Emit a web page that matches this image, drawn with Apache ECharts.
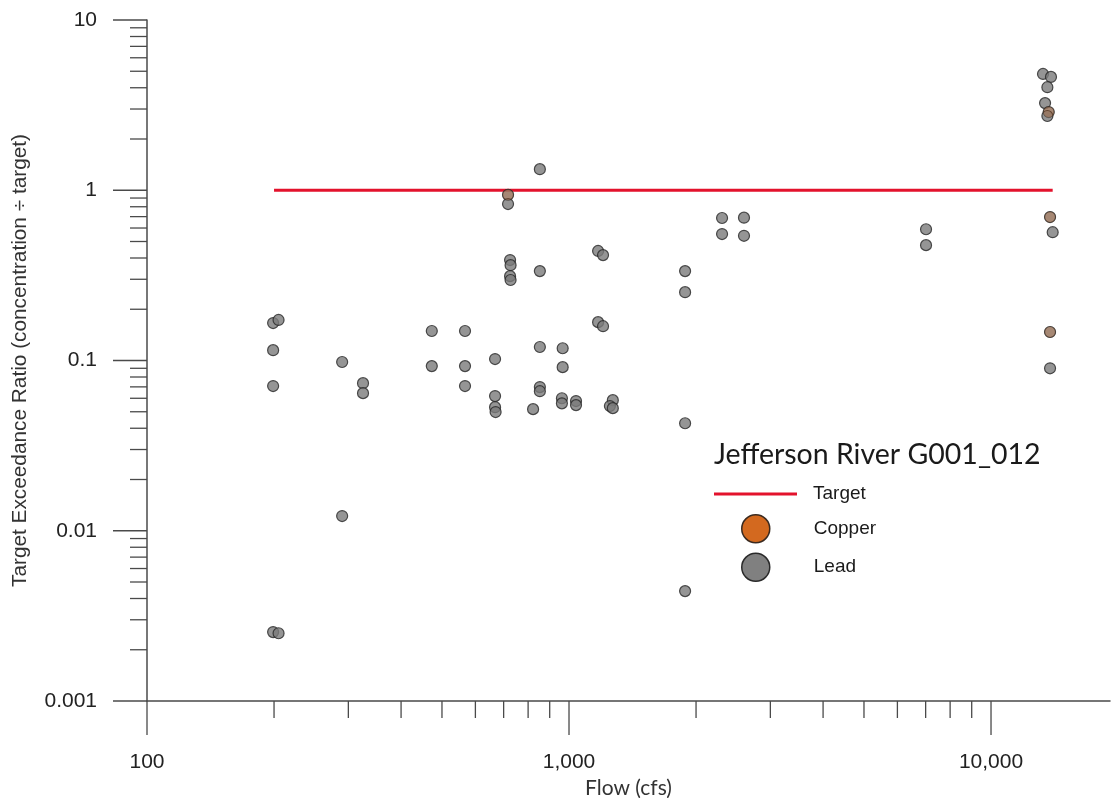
<!DOCTYPE html>
<html>
<head>
<meta charset="utf-8">
<script src="https://cdn.jsdelivr.net/npm/echarts@6/dist/echarts.min.js"></script>
<style>
html,body{margin:0;padding:0;background:#fff;}
#chart{width:1112px;height:798px;}
</style>
</head>
<body>
<div id="chart"></div>
<script>
// ---- data (flow cfs, target exceedance ratio) ----
const leadPoints = [
  [199,0.166],[205,0.173],[199,0.115],[199,0.0708],[199,0.00254],[205,0.00250],
  [290,0.098],[290,0.0122],[325,0.0736],[325,0.0643],
  [473,0.149],[473,0.0927],
  [567,0.149],[567,0.0927],[567,0.0708],
  [668,0.102],[668,0.0618],[668,0.0532],[670,0.0498],
  [717,0.94],[717,0.83],[725,0.389],[727,0.363],[725,0.313],[727,0.297],
  [822,0.0518],
  [853,1.33],[853,0.335],[853,0.12],[853,0.0698],[853,0.066],
  [966,0.118],[966,0.0914],[962,0.060],[962,0.056],
  [1039,0.0578],[1039,0.0547],
  [1172,0.44],[1204,0.416],[1172,0.168],[1204,0.159],
  [1270,0.0585],[1250,0.054],[1270,0.0525],
  [1884,0.335],[1884,0.252],[1884,0.0428],[1884,0.00442],
  [2305,0.687],[2598,0.69],[2305,0.553],[2598,0.54],
  [7015,0.59],[7015,0.476],
  [13280,4.82],[13870,4.63],[13600,4.03],[13430,3.25],[13700,2.88],[13600,2.73],
  [13800,0.696],[14000,0.567],[13800,0.147],[13800,0.090]
];
const copperPoints = [
  [717,0.94],[13700,2.88],[13800,0.147],[13800,0.696]
];
const targetLine = [[200,1],[14000,1]];

// ---- axes / ticks ----
const xMin = 100, xMax = 19140;
const yMin = 0.001, yMax = 10;
const xMajorTicks = [100, 1000, 10000];
const xTickLabels = {100:'100', 1000:'1,000', 10000:'10,000'};
const xMinorTicks = [200,300,400,500,600,700,800,900,2000,3000,4000,5000,6000,7000,8000,9000];
const yMajorTicks = [0.001, 0.01, 0.1, 1, 10];
const yTickLabels = ['0.001','0.01','0.1','1','10'];
const yMinorTicks = [0.002,0.003,0.004,0.005,0.006,0.007,0.008,0.009,
                     0.02,0.03,0.04,0.05,0.06,0.07,0.08,0.09,
                     0.2,0.3,0.4,0.5,0.6,0.7,0.8,0.9,
                     2,3,4,5,6,7,8,9];

const AXIS_COLOR = '#4a4a4a';
const MAJOR_LEN = 34, MINOR_LEN = 17;

function tickData() {
  const d = [];
  xMajorTicks.forEach(v => d.push([v, yMin, 'x', MAJOR_LEN]));
  xMinorTicks.forEach(v => d.push([v, yMin, 'x', MINOR_LEN]));
  yMajorTicks.forEach(v => d.push([xMin, v, 'y', MAJOR_LEN]));
  yMinorTicks.forEach(v => d.push([xMin, v, 'y', MINOR_LEN]));
  return d;
}

function nearest(v, arr) {
  let best = null, bd = Infinity;
  arr.forEach(a => { const dd = Math.abs(Math.log10(v) - Math.log10(a)); if (dd < bd) { bd = dd; best = a; } });
  return bd < 1e-6 ? best : null;
}

const chart = echarts.init(document.getElementById('chart'), null, {renderer: 'canvas'});
chart.setOption({
  animation: false,
  backgroundColor: '#ffffff',
  title: {
    text: 'Jefferson River G001_012',
    left: 714, top: 440,
    padding: 0,
    textStyle: {fontFamily: 'Lato', fontSize: 28.5, fontWeight: 'normal', color: '#1a1a1a'}
  },
  legend: [
    {
      data: [{name: 'Target', icon: 'rect'}],
      left: 714, top: 484.5,
      padding: 0,
      itemWidth: 83, itemHeight: 3,
      textStyle: {fontFamily: 'Liberation Sans', fontSize: 19, color: '#1a1a1a', padding: [0,0,0,11]},
      selectedMode: false
    },
    {
      data: [
        {name: 'Copper', itemStyle: {color: '#d3691f', opacity: 1, borderColor: '#3a2a20', borderWidth: 1.5}},
        {name: 'Lead', itemStyle: {color: '#808080', opacity: 1, borderColor: '#2a2a2a', borderWidth: 1.5}}
      ],
      orient: 'vertical',
      left: 741, top: 514,
      padding: 0,
      itemWidth: 28, itemHeight: 28, itemGap: 9,
      textStyle: {fontFamily: 'Liberation Sans', fontSize: 19, color: '#1a1a1a', padding: [0,0,0,39]},
      selectedMode: false
    }
  ],
  grid: {left: 147, right: 2, top: 20, bottom: 97, containLabel: false, outerBoundsMode: 'none'},
  xAxis: {
    type: 'log', logBase: 10, min: xMin, max: xMax,
    name: 'Flow (cfs)', nameLocation: 'middle', nameGap: 77,
    nameTextStyle: {fontFamily: 'Lato', fontSize: 21, color: '#333'},
    axisLine: {show: true, lineStyle: {color: AXIS_COLOR, width: 1.5}},
    axisTick: {show: false},
    splitLine: {show: false},
    minorTick: {show: false},
    axisLabel: {
      margin: 51, fontFamily: 'Liberation Sans', fontSize: 21, color: '#222',
      showMaxLabel: false,
      formatter: v => { const t = nearest(v, xMajorTicks); return t === null ? '' : xTickLabels[t]; }
    }
  },
  yAxis: {
    type: 'log', logBase: 10, min: yMin, max: yMax,
    name: 'Target Exceedance Ratio (concentration \u00f7 target)', nameLocation: 'middle', nameGap: 116,
    nameTextStyle: {fontFamily: 'Liberation Sans', fontSize: 20.8, color: '#333'},
    axisLine: {show: true, lineStyle: {color: AXIS_COLOR, width: 1.5}},
    axisTick: {show: false},
    splitLine: {show: false},
    minorTick: {show: false},
    axisLabel: {
      margin: 50, fontFamily: 'Liberation Sans', fontSize: 21, color: '#222',
      formatter: v => { const t = nearest(v, yMajorTicks); return t === null ? '' : yTickLabels[yMajorTicks.indexOf(t)]; }
    }
  },
  series: [
    {
      type: 'custom', name: 'ticks', silent: true, clip: false, z: 1,
      data: tickData(),
      renderItem: (params, api) => {
        const p = api.coord([api.value(0), api.value(1)]);
        const dir = api.value(2);
        const len = api.value(3);
        const shape = dir === 'x'
          ? {x1: p[0], y1: p[1], x2: p[0], y2: p[1] + len}
          : {x1: p[0], y1: p[1], x2: p[0] - len, y2: p[1]};
        return {type: 'line', shape: shape, style: {stroke: AXIS_COLOR, lineWidth: 1.3}};
      },
      encode: {x: 0, y: 1}
    },
    {
      type: 'line', name: 'Target', data: targetLine,
      symbol: 'none', z: 2,
      lineStyle: {color: '#e3122c', width: 3},
      itemStyle: {color: '#e3122c'}
    },
    {
      type: 'scatter', name: 'Lead', data: leadPoints,
      symbol: 'circle', symbolSize: 11, z: 3,
      itemStyle: {color: '#7b7b7b', borderColor: '#262626', borderWidth: 1.2}
    },
    {
      type: 'scatter', name: 'Copper', data: copperPoints,
      symbol: 'circle', symbolSize: 11, z: 4,
      itemStyle: {color: '#d3691f', opacity: 0.28, borderColor: '#262626', borderWidth: 1}
    }
  ]
});
</script>
</body>
</html>
